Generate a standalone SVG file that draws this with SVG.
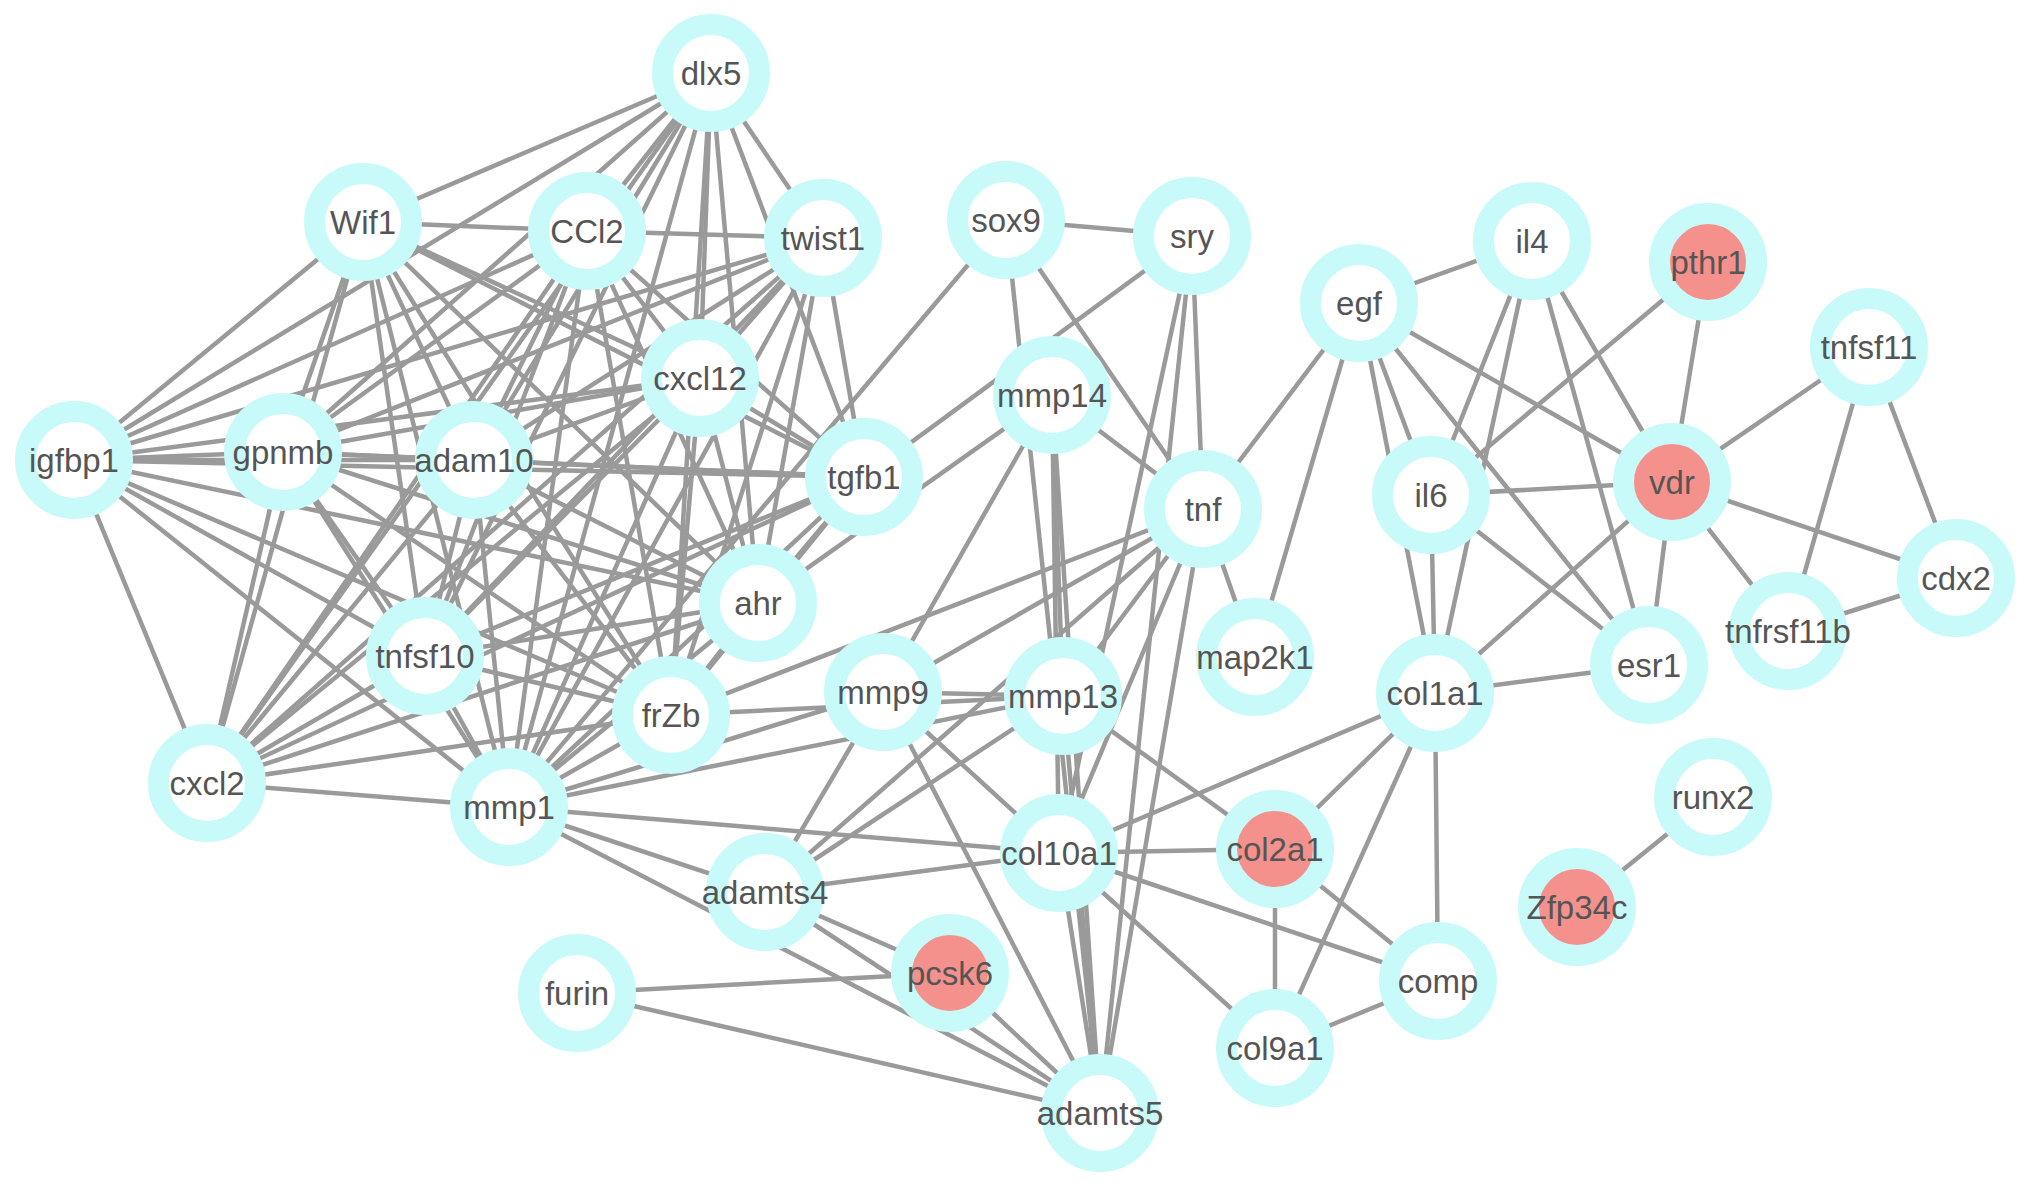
<svg xmlns="http://www.w3.org/2000/svg" width="2032" height="1186" viewBox="0 0 2032 1186">
<style>
.bg{fill:#ffffff}
#edges line{stroke:#9a9a9a;stroke-width:4.5;stroke-linecap:round}
.n circle{fill:#ffffff;stroke:#c8fafa;stroke-width:21}
.n.hit circle{fill:#f5918c}
.n text{font-family:"Liberation Sans",Arial,sans-serif;font-size:33px;fill:#555555;text-anchor:middle}
</style>
<rect class="bg" x="0" y="0" width="2032" height="1186"/>
<g id="edges">
<!-- dlx5 -->
<line x1="711" y1="73" x2="363" y2="222"/>
<line x1="711" y1="73" x2="587" y2="231"/>
<line x1="711" y1="73" x2="823" y2="238"/>
<line x1="711" y1="73" x2="700" y2="378"/>
<line x1="711" y1="73" x2="74" y2="460"/>
<line x1="711" y1="73" x2="283" y2="452"/>
<line x1="711" y1="73" x2="474" y2="460"/>
<line x1="711" y1="73" x2="864" y2="477"/>
<line x1="711" y1="73" x2="758" y2="603"/>
<line x1="711" y1="73" x2="425" y2="656"/>
<line x1="711" y1="73" x2="671" y2="715"/>
<line x1="711" y1="73" x2="207" y2="783"/>
<line x1="711" y1="73" x2="509" y2="807"/>
<!-- Wif1 -->
<line x1="363" y1="222" x2="587" y2="231"/>
<line x1="363" y1="222" x2="700" y2="378"/>
<line x1="363" y1="222" x2="74" y2="460"/>
<line x1="363" y1="222" x2="283" y2="452"/>
<line x1="363" y1="222" x2="474" y2="460"/>
<line x1="363" y1="222" x2="864" y2="477"/>
<line x1="363" y1="222" x2="758" y2="603"/>
<line x1="363" y1="222" x2="425" y2="656"/>
<line x1="363" y1="222" x2="671" y2="715"/>
<line x1="363" y1="222" x2="207" y2="783"/>
<line x1="363" y1="222" x2="509" y2="807"/>
<!-- CCl2 -->
<line x1="587" y1="231" x2="823" y2="238"/>
<line x1="587" y1="231" x2="700" y2="378"/>
<line x1="587" y1="231" x2="74" y2="460"/>
<line x1="587" y1="231" x2="283" y2="452"/>
<line x1="587" y1="231" x2="474" y2="460"/>
<line x1="587" y1="231" x2="864" y2="477"/>
<line x1="587" y1="231" x2="758" y2="603"/>
<line x1="587" y1="231" x2="425" y2="656"/>
<line x1="587" y1="231" x2="671" y2="715"/>
<line x1="587" y1="231" x2="207" y2="783"/>
<line x1="587" y1="231" x2="509" y2="807"/>
<!-- twist1 -->
<line x1="823" y1="238" x2="700" y2="378"/>
<line x1="823" y1="238" x2="74" y2="460"/>
<line x1="823" y1="238" x2="283" y2="452"/>
<line x1="823" y1="238" x2="474" y2="460"/>
<line x1="823" y1="238" x2="864" y2="477"/>
<line x1="823" y1="238" x2="758" y2="603"/>
<line x1="823" y1="238" x2="425" y2="656"/>
<line x1="823" y1="238" x2="671" y2="715"/>
<line x1="823" y1="238" x2="207" y2="783"/>
<line x1="823" y1="238" x2="509" y2="807"/>
<!-- cxcl12 -->
<line x1="700" y1="378" x2="74" y2="460"/>
<line x1="700" y1="378" x2="283" y2="452"/>
<line x1="700" y1="378" x2="474" y2="460"/>
<line x1="700" y1="378" x2="864" y2="477"/>
<line x1="700" y1="378" x2="758" y2="603"/>
<line x1="700" y1="378" x2="425" y2="656"/>
<line x1="700" y1="378" x2="671" y2="715"/>
<line x1="700" y1="378" x2="207" y2="783"/>
<line x1="700" y1="378" x2="509" y2="807"/>
<!-- igfbp1 -->
<line x1="74" y1="460" x2="283" y2="452"/>
<line x1="74" y1="460" x2="474" y2="460"/>
<line x1="74" y1="460" x2="864" y2="477"/>
<line x1="74" y1="460" x2="758" y2="603"/>
<line x1="74" y1="460" x2="425" y2="656"/>
<line x1="74" y1="460" x2="671" y2="715"/>
<line x1="74" y1="460" x2="207" y2="783"/>
<line x1="74" y1="460" x2="509" y2="807"/>
<!-- gpnmb -->
<line x1="283" y1="452" x2="474" y2="460"/>
<line x1="283" y1="452" x2="864" y2="477"/>
<line x1="283" y1="452" x2="758" y2="603"/>
<line x1="283" y1="452" x2="425" y2="656"/>
<line x1="283" y1="452" x2="671" y2="715"/>
<line x1="283" y1="452" x2="207" y2="783"/>
<line x1="283" y1="452" x2="509" y2="807"/>
<!-- adam10 -->
<line x1="474" y1="460" x2="864" y2="477"/>
<line x1="474" y1="460" x2="758" y2="603"/>
<line x1="474" y1="460" x2="425" y2="656"/>
<line x1="474" y1="460" x2="671" y2="715"/>
<line x1="474" y1="460" x2="207" y2="783"/>
<line x1="474" y1="460" x2="509" y2="807"/>
<!-- tgfb1 -->
<line x1="864" y1="477" x2="758" y2="603"/>
<line x1="864" y1="477" x2="425" y2="656"/>
<line x1="864" y1="477" x2="671" y2="715"/>
<line x1="864" y1="477" x2="207" y2="783"/>
<line x1="864" y1="477" x2="509" y2="807"/>
<!-- ahr -->
<line x1="758" y1="603" x2="425" y2="656"/>
<line x1="758" y1="603" x2="671" y2="715"/>
<line x1="758" y1="603" x2="207" y2="783"/>
<line x1="758" y1="603" x2="509" y2="807"/>
<!-- tnfsf10 -->
<line x1="425" y1="656" x2="671" y2="715"/>
<line x1="425" y1="656" x2="207" y2="783"/>
<line x1="425" y1="656" x2="509" y2="807"/>
<!-- frZb, cxcl2 -->
<line x1="671" y1="715" x2="207" y2="783"/>
<line x1="671" y1="715" x2="509" y2="807"/>
<line x1="207" y1="783" x2="509" y2="807"/>
<!-- sox9 / sry / mmp14 -->
<line x1="1006" y1="220" x2="1192" y2="236"/>
<line x1="1006" y1="220" x2="1203" y2="509"/>
<line x1="1006" y1="220" x2="509" y2="807"/>
<line x1="1006" y1="220" x2="1100" y2="1113"/>
<line x1="1192" y1="236" x2="864" y2="477"/>
<line x1="1192" y1="236" x2="1203" y2="509"/>
<line x1="1192" y1="236" x2="1059" y2="853"/>
<line x1="1192" y1="236" x2="1100" y2="1113"/>
<line x1="1052" y1="395" x2="758" y2="603"/>
<line x1="1052" y1="395" x2="1203" y2="509"/>
<line x1="1052" y1="395" x2="883" y2="692"/>
<line x1="1052" y1="395" x2="1063" y2="696"/>
<line x1="1052" y1="395" x2="1059" y2="853"/>
<line x1="1052" y1="395" x2="1100" y2="1113"/>
<!-- tnf -->
<line x1="1203" y1="509" x2="1359" y2="303"/>
<line x1="1203" y1="509" x2="1255" y2="657"/>
<line x1="1203" y1="509" x2="883" y2="692"/>
<line x1="1203" y1="509" x2="671" y2="715"/>
<line x1="1203" y1="509" x2="1063" y2="696"/>
<line x1="1203" y1="509" x2="1059" y2="853"/>
<line x1="1203" y1="509" x2="765" y2="892"/>
<line x1="1203" y1="509" x2="1100" y2="1113"/>
<!-- egf / il4 / pthr1 / vdr -->
<line x1="1359" y1="303" x2="1532" y2="241"/>
<line x1="1359" y1="303" x2="1431" y2="495"/>
<line x1="1359" y1="303" x2="1435" y2="693"/>
<line x1="1359" y1="303" x2="1649" y2="665"/>
<line x1="1359" y1="303" x2="1672" y2="482"/>
<line x1="1359" y1="303" x2="1255" y2="657"/>
<line x1="1532" y1="241" x2="1431" y2="495"/>
<line x1="1532" y1="241" x2="1435" y2="693"/>
<line x1="1532" y1="241" x2="1649" y2="665"/>
<line x1="1532" y1="241" x2="1672" y2="482"/>
<line x1="1708" y1="262" x2="1431" y2="495"/>
<line x1="1708" y1="262" x2="1672" y2="482"/>
<line x1="1672" y1="482" x2="1431" y2="495"/>
<line x1="1672" y1="482" x2="1649" y2="665"/>
<line x1="1672" y1="482" x2="1435" y2="693"/>
<line x1="1672" y1="482" x2="1869" y2="347"/>
<line x1="1672" y1="482" x2="1956" y2="578"/>
<line x1="1672" y1="482" x2="1788" y2="631"/>
<line x1="1431" y1="495" x2="1435" y2="693"/>
<line x1="1431" y1="495" x2="1649" y2="665"/>
<line x1="1649" y1="665" x2="1435" y2="693"/>
<line x1="1869" y1="347" x2="1788" y2="631"/>
<line x1="1869" y1="347" x2="1956" y2="578"/>
<line x1="1788" y1="631" x2="1956" y2="578"/>
<line x1="1713" y1="797" x2="1577" y2="907"/>
<!-- collagen group -->
<line x1="1435" y1="693" x2="1059" y2="853"/>
<line x1="1435" y1="693" x2="1275" y2="849"/>
<line x1="1435" y1="693" x2="1275" y2="1048"/>
<line x1="1435" y1="693" x2="1438" y2="981"/>
<line x1="1275" y1="849" x2="1059" y2="853"/>
<line x1="1275" y1="849" x2="1275" y2="1048"/>
<line x1="1275" y1="849" x2="1438" y2="981"/>
<line x1="1275" y1="849" x2="1063" y2="696"/>
<line x1="1059" y1="853" x2="1438" y2="981"/>
<line x1="1059" y1="853" x2="1275" y2="1048"/>
<line x1="1275" y1="1048" x2="1438" y2="981"/>
<line x1="1059" y1="853" x2="1100" y2="1113"/>
<line x1="1063" y1="696" x2="1100" y2="1113"/>
<!-- mmp9 / mmp13 / mmp1 -->
<line x1="883" y1="692" x2="1063" y2="696"/>
<line x1="671" y1="715" x2="1063" y2="696"/>
<line x1="883" y1="692" x2="1059" y2="853"/>
<line x1="883" y1="692" x2="1100" y2="1113"/>
<line x1="883" y1="692" x2="765" y2="892"/>
<line x1="509" y1="807" x2="883" y2="692"/>
<line x1="509" y1="807" x2="1063" y2="696"/>
<line x1="509" y1="807" x2="1059" y2="853"/>
<line x1="509" y1="807" x2="765" y2="892"/>
<line x1="509" y1="807" x2="1100" y2="1113"/>
<!-- adamts4 / pcsk6 / furin -->
<line x1="765" y1="892" x2="1063" y2="696"/>
<line x1="765" y1="892" x2="1059" y2="853"/>
<line x1="765" y1="892" x2="950" y2="973"/>
<line x1="765" y1="892" x2="1100" y2="1113"/>
<line x1="950" y1="973" x2="1100" y2="1113"/>
<line x1="577" y1="993" x2="950" y2="973"/>
<line x1="577" y1="993" x2="1100" y2="1113"/>
</g>
<g id="nodes">
<g id="n-dlx5" class="n"><circle cx="711" cy="73" r="48.5"/><text x="711" y="85">dlx5</text></g>
<g id="n-Wif1" class="n"><circle cx="363" cy="222" r="48.5"/><text x="363" y="234">Wif1</text></g>
<g id="n-CCl2" class="n"><circle cx="587" cy="231" r="48.5"/><text x="587" y="243">CCl2</text></g>
<g id="n-twist1" class="n"><circle cx="823" cy="238" r="48.5"/><text x="823" y="250">twist1</text></g>
<g id="n-sox9" class="n"><circle cx="1006" cy="220" r="48.5"/><text x="1006" y="232">sox9</text></g>
<g id="n-sry" class="n"><circle cx="1192" cy="236" r="48.5"/><text x="1192" y="248">sry</text></g>
<g id="n-il4" class="n"><circle cx="1532" cy="241" r="48.5"/><text x="1532" y="253">il4</text></g>
<g id="n-pthr1" class="n hit"><circle cx="1708" cy="262" r="48.5"/><text x="1708" y="274">pthr1</text></g>
<g id="n-egf" class="n"><circle cx="1359" cy="303" r="48.5"/><text x="1359" y="315">egf</text></g>
<g id="n-tnfsf11" class="n"><circle cx="1869" cy="347" r="48.5"/><text x="1869" y="359">tnfsf11</text></g>
<g id="n-cxcl12" class="n"><circle cx="700" cy="378" r="48.5"/><text x="700" y="390">cxcl12</text></g>
<g id="n-igfbp1" class="n"><circle cx="74" cy="460" r="48.5"/><text x="74" y="472">igfbp1</text></g>
<g id="n-gpnmb" class="n"><circle cx="283" cy="452" r="48.5"/><text x="283" y="464">gpnmb</text></g>
<g id="n-adam10" class="n"><circle cx="474" cy="460" r="48.5"/><text x="474" y="472">adam10</text></g>
<g id="n-tgfb1" class="n"><circle cx="864" cy="477" r="48.5"/><text x="864" y="489">tgfb1</text></g>
<g id="n-mmp14" class="n"><circle cx="1052" cy="395" r="48.5"/><text x="1052" y="407">mmp14</text></g>
<g id="n-tnf" class="n"><circle cx="1203" cy="509" r="48.5"/><text x="1203" y="521">tnf</text></g>
<g id="n-il6" class="n"><circle cx="1431" cy="495" r="48.5"/><text x="1431" y="507">il6</text></g>
<g id="n-vdr" class="n hit"><circle cx="1672" cy="482" r="48.5"/><text x="1672" y="494">vdr</text></g>
<g id="n-cdx2" class="n"><circle cx="1956" cy="578" r="48.5"/><text x="1956" y="590">cdx2</text></g>
<g id="n-ahr" class="n"><circle cx="758" cy="603" r="48.5"/><text x="758" y="615">ahr</text></g>
<g id="n-tnfsf10" class="n"><circle cx="425" cy="656" r="48.5"/><text x="425" y="668">tnfsf10</text></g>
<g id="n-frZb" class="n"><circle cx="671" cy="715" r="48.5"/><text x="671" y="727">frZb</text></g>
<g id="n-mmp9" class="n"><circle cx="883" cy="692" r="48.5"/><text x="883" y="704">mmp9</text></g>
<g id="n-mmp13" class="n"><circle cx="1063" cy="696" r="48.5"/><text x="1063" y="708">mmp13</text></g>
<g id="n-map2k1" class="n"><circle cx="1255" cy="657" r="48.5"/><text x="1255" y="669">map2k1</text></g>
<g id="n-col1a1" class="n"><circle cx="1435" cy="693" r="48.5"/><text x="1435" y="705">col1a1</text></g>
<g id="n-esr1" class="n"><circle cx="1649" cy="665" r="48.5"/><text x="1649" y="677">esr1</text></g>
<g id="n-tnfrsf11b" class="n"><circle cx="1788" cy="631" r="48.5"/><text x="1788" y="643">tnfrsf11b</text></g>
<g id="n-cxcl2" class="n"><circle cx="207" cy="783" r="48.5"/><text x="207" y="795">cxcl2</text></g>
<g id="n-mmp1" class="n"><circle cx="509" cy="807" r="48.5"/><text x="509" y="819">mmp1</text></g>
<g id="n-runx2" class="n"><circle cx="1713" cy="797" r="48.5"/><text x="1713" y="809">runx2</text></g>
<g id="n-col10a1" class="n"><circle cx="1059" cy="853" r="48.5"/><text x="1059" y="865">col10a1</text></g>
<g id="n-col2a1" class="n hit"><circle cx="1275" cy="849" r="48.5"/><text x="1275" y="861">col2a1</text></g>
<g id="n-adamts4" class="n"><circle cx="765" cy="892" r="48.5"/><text x="765" y="904">adamts4</text></g>
<g id="n-Zfp34c" class="n hit"><circle cx="1577" cy="907" r="48.5"/><text x="1577" y="919">Zfp34c</text></g>
<g id="n-furin" class="n"><circle cx="577" cy="993" r="48.5"/><text x="577" y="1005">furin</text></g>
<g id="n-pcsk6" class="n hit"><circle cx="950" cy="973" r="48.5"/><text x="950" y="985">pcsk6</text></g>
<g id="n-comp" class="n"><circle cx="1438" cy="981" r="48.5"/><text x="1438" y="993">comp</text></g>
<g id="n-col9a1" class="n"><circle cx="1275" cy="1048" r="48.5"/><text x="1275" y="1060">col9a1</text></g>
<g id="n-adamts5" class="n"><circle cx="1100" cy="1113" r="48.5"/><text x="1100" y="1125">adamts5</text></g>
</g>
</svg>
